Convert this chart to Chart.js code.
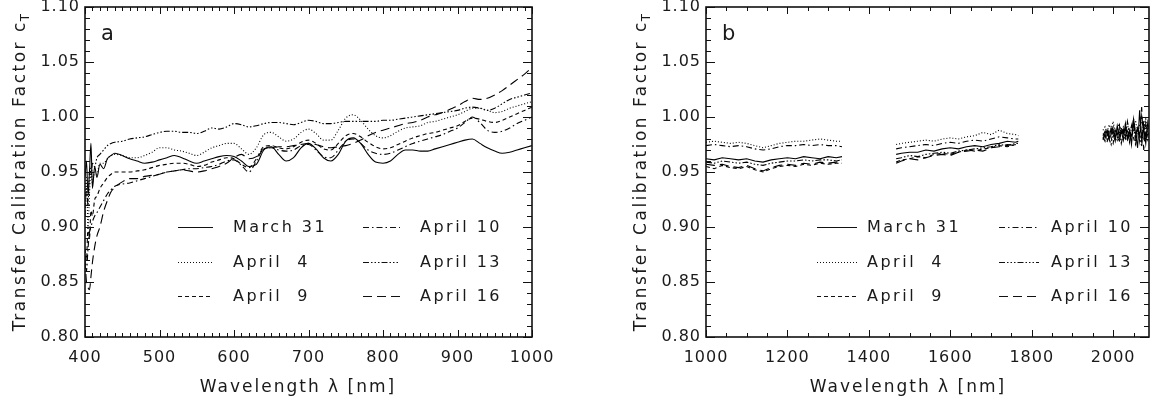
<!DOCTYPE html>
<html>
<head>
<meta charset="utf-8">
<script src="https://cdn.jsdelivr.net/npm/chart.js@4.4.1/dist/chart.umd.min.js"></script>
<style>
  html, body { margin:0; padding:0; background:#fff; }
  #wrap { position:relative; width:1151px; height:403px; overflow:hidden; }
  .panel { position:absolute; top:0; height:403px; }
  #pa { left:0; width:575px; }
  #pb { left:575px; width:576px; }
</style>
</head>
<body>
<div id="wrap">
  <div class="panel" id="pa"><canvas id="ca"></canvas></div>
  <div class="panel" id="pb"><canvas id="cb"></canvas></div>
</div>
<script>
// ---- data: panel a (400-1000 nm) ----
const waveA = [400,402,404,406,408,410,413,416,420,425,430,435,440,
  450,460,470,480,490,500,510,520,530,540,
  550,560,570,580,590,600,610,620,630,640,
  650,660,670,680,690,700,710,720,730,740,
  750,760,770,780,790,800,810,820,830,840,
  850,860,870,880,890,900,910,920,930,940,
  950,960,970,980,990,1000];

const mar31A = [.945,.960,.930,.950,.976,.935,.955,.945,.957,.953,.962,.965,.967,
  .965,.962,.960,.958,.959,.961,.963,.965,.963,.960,
  .958,.960,.962,.964,.965,.964,.960,.955,.957,.970,
  .973,.966,.960,.963,.972,.976,.971,.963,.960,.966,
  .978,.981,.976,.966,.959,.958,.960,.966,.970,.970,
  .969,.969,.971,.973,.975,.977,.979,.980,.976,.972,
  .969,.967,.968,.970,.972,.974];
const apr4A = [.920,.945,.900,.930,.955,.940,.950,.948,.958,.958,.962,.965,.966,
  .965,.963,.963,.965,.968,.972,.972,.970,.969,.967,
  .965,.968,.972,.974,.976,.976,.971,.966,.972,.984,
  .986,.982,.978,.980,.986,.989,.985,.979,.979,.988,
  .999,1.002,.997,.989,.983,.981,.983,.987,.990,.991,
  .992,.995,.996,.998,1.000,1.002,1.005,1.008,1.008,1.006,
  1.004,1.005,1.008,1.010,1.012,1.014];
const apr9A = [.880,.870,.900,.890,.915,.910,.925,.928,.935,.940,.945,.948,.950,
  .950,.950,.951,.952,.954,.956,.957,.958,.958,.957,
  .955,.956,.959,.961,.963,.962,.957,.954,.962,.973,
  .974,.972,.971,.973,.977,.979,.976,.971,.970,.976,
  .983,.985,.982,.977,.973,.971,.972,.975,.978,.981,
  .983,.985,.986,.988,.990,.992,.996,.999,.998,.996,
  .995,.997,1.000,1.003,1.006,1.009];
const apr10A = [.875,.860,.880,.895,.900,.905,.910,.913,.918,.924,.930,.934,.937,
  .939,.940,.942,.944,.946,.948,.950,.951,.952,.953,
  .953,.954,.955,.957,.960,.961,.956,.950,.960,.971,
  .972,.970,.969,.970,.974,.975,.970,.964,.963,.970,
  .978,.980,.976,.970,.967,.966,.967,.970,.973,.976,
  .978,.980,.982,.984,.987,.990,.995,1.000,.995,.988,
  .986,.987,.990,.994,.997,1.000];
const apr13A = [.910,.935,.920,.950,.945,.958,.955,.963,.966,.970,.974,.976,.977,
  .978,.980,.981,.982,.984,.986,.987,.987,.986,.986,
  .985,.987,.990,.989,.991,.994,.993,.991,.992,.994,
  .995,.995,.994,.993,.995,.997,.996,.994,.994,.995,
  .996,.996,.996,.996,.996,.997,.997,.998,.999,1.000,
  1.001,1.002,1.003,1.004,1.005,1.006,1.008,1.009,1.008,1.006,
  1.008,1.012,1.016,1.018,1.020,1.022];
const apr16A = [.870,.850,.845,.843,.855,.868,.882,.892,.900,.914,.924,.932,.936,
  .941,.944,.944,.946,.947,.948,.950,.951,.952,.951,
  .950,.951,.953,.955,.958,.963,.966,.962,.964,.971,
  .972,.973,.973,.974,.975,.976,.975,.973,.972,.973,
  .974,.976,.979,.983,.986,.988,.990,.992,.994,.995,
  .997,1.000,1.002,1.004,1.007,1.010,1.014,1.017,1.016,1.017,
  1.020,1.024,1.029,1.034,1.039,1.045];

// ---- data: panel b (three measured windows) ----
const waveB1 = [1000,1020,1040,1060,1080,1100,1120,1140,1160,1180,1200,1220,1240,1260,1280,1300,1320,1334];
const waveB2 = [1467,1480,1500,1520,1540,1560,1580,1600,1620,1640,1660,1680,1700,1720,1740,1760,1767];
const waveB3 = [1975,1980,1985,1990,1995,2000,2005,2010,2015,2020,2025,2030,2035,2040,2045,2050,2055,2060,2065,2070,2075,2080,2085,2090];

const mar31B = [
  [.962,.961,.963,.962,.961,.962,.960,.959,.961,.962,.963,.962,.964,.963,.962,.964,.963,.964],
  [.966,.967,.968,.968,.970,.969,.971,.972,.971,.973,.974,.973,.975,.976,.978,.977,.978],
  [.985,.982,.988,.980,.990,.984,.978,.992,.983,.987,.979,.994,.981,.988,.975,.998,.985,.972,1.006,.980,.990,.976,.995,.985]];
const apr4B = [
  [.977,.978,.977,.976,.977,.976,.974,.972,.974,.976,.977,.978,.978,.979,.980,.979,.978,.978],
  [.975,.976,.977,.978,.979,.978,.980,.981,.980,.982,.983,.986,.984,.988,.985,.984,.983],
  [.988,.991,.985,.993,.989,.996,.986,.990,.994,.984,.991,.987,.995,.983,.992,.988,.997,.986,.993,.984,.990,.998,.987,.992]];
const apr9B = [
  [.955,.953,.956,.954,.953,.955,.952,.950,.953,.955,.956,.955,.957,.956,.958,.957,.958,.958],
  [.959,.961,.962,.964,.963,.966,.967,.966,.968,.970,.969,.971,.972,.974,.973,.975,.974],
  [.979,.984,.977,.986,.981,.976,.988,.982,.978,.990,.983,.980,.987,.977,.992,.981,.975,.989,.983,.978,.994,.980,.986,.982]];
const apr10B = [
  [.974,.975,.974,.973,.974,.973,.971,.970,.971,.973,.974,.974,.975,.974,.975,.974,.974,.973],
  [.971,.972,.973,.974,.975,.974,.976,.977,.976,.978,.979,.978,.980,.982,.981,.980,.980],
  [.983,.987,.981,.989,.985,.991,.982,.987,.993,.984,.989,.981,.996,.986,.983,.999,.984,.990,.978,1.001,.986,.982,.991,.988]];
const apr13B = [
  [.959,.958,.960,.959,.958,.959,.957,.956,.958,.959,.960,.960,.961,.960,.961,.961,.960,.961],
  [.962,.963,.965,.964,.966,.967,.968,.967,.969,.970,.971,.972,.973,.975,.974,.976,.976],
  [.982,.978,.986,.980,.975,.987,.983,.979,.989,.976,.985,.991,.978,.986,.982,.995,.977,.988,.984,.973,.997,.983,.979,.990]];
const apr16B = [
  [.957,.956,.957,.955,.954,.956,.953,.951,.954,.956,.957,.956,.958,.957,.959,.958,.959,.960],
  [.958,.960,.962,.961,.963,.965,.966,.965,.968,.969,.970,.969,.972,.973,.975,.974,.975],
  [.980,.985,.990,.979,.984,.992,.980,.986,.977,.990,.985,.993,.980,.988,.978,.996,.982,.990,.983,1.009,.970,.994,.983,.988]];

const dates = ['March 31', 'April  4', 'April  9', 'April 10', 'April 13', 'April 16'];
const dashes = [[], [1,2], [4,3], [6,3,1.5,3], [6,2,1.5,2,1.5,2,1.5,2], [9,5]];

const yTitle = 'Transfer Calibration Factor c';
const xTitle = 'Wavelength \u03bb [nm]';

// ---- helpers ----
const pts = (xs, ys) => xs.map((x,i) => ({x, y: ys[i]}));
function segPts(parts){
  const wins = [waveB1, waveB2, waveB3];
  const out = [];
  parts.forEach((ys,k) => {
    if (k) out.push({x: (out[out.length-1].x + wins[k][0]) / 2, y: null});
    out.push(...pts(wins[k], ys));
  });
  return out;
}

const FONT = '"DejaVu Sans", sans-serif';

function makeDeco(cfg){
  return {
    id: 'deco',
    beforeDraw(chart){ chart.ctx.letterSpacing = '1px'; },
    afterDraw(chart){
      const {ctx, chartArea: a, scales: {x, y}} = chart;
      ctx.save();
      ctx.strokeStyle = '#111';
      ctx.lineWidth = 1;
      ctx.beginPath();
      const nx = Math.floor((x.max - x.min) / cfg.minorX + 1e-6);
      for (let i = 0; i <= nx; i++) {
        const v = x.min + i * cfg.minorX;
        const px = Math.round(x.getPixelForValue(v)) + 0.5;
        const L = (Math.round(v) % cfg.majorX === 0) ? 7 : 4;
        ctx.moveTo(px, a.bottom); ctx.lineTo(px, a.bottom - L);
        ctx.moveTo(px, a.top); ctx.lineTo(px, a.top + L);
      }
      for (let i = 0; i <= 30; i++) {
        const py = Math.round(y.getPixelForValue(0.8 + i * 0.01)) + 0.5;
        const L = (i % 5 === 0) ? 9 : 5;
        ctx.moveTo(a.left, py); ctx.lineTo(a.left + L, py);
        ctx.moveTo(a.right, py); ctx.lineTo(a.right - L, py);
      }
      ctx.stroke();
      ctx.lineWidth = 1.6;
      ctx.strokeRect(a.left, a.top, a.right - a.left, a.bottom - a.top);

      ctx.fillStyle = '#1a1a1a';
      // panel letter
      ctx.letterSpacing = '0px';
      ctx.font = '21px ' + FONT;
      ctx.textAlign = 'left'; ctx.textBaseline = 'alphabetic';
      ctx.fillText(cfg.letter, a.left + 16, 40);

      // legend
      ctx.font = '16px ' + FONT;
      ctx.letterSpacing = '2.5px';
      chart.data.datasets.forEach((ds, i) => {
        const col = cfg.legendCols[i < 3 ? 0 : 1];
        const ry = cfg.legendRows[i % 3];
        ctx.save();
        ctx.lineWidth = 1;
        ctx.setLineDash(ds.borderDash || []);
        ctx.beginPath();
        ctx.moveTo(col[0], ry + 0.5); ctx.lineTo(col[1], ry + 0.5);
        ctx.stroke();
        ctx.restore();
        ctx.textBaseline = 'middle';
        ctx.fillText(ds.label, col[2], ry + 1);
      });

      // x title
      ctx.font = '17px ' + FONT;
      ctx.letterSpacing = '2px';
      ctx.textAlign = 'center'; ctx.textBaseline = 'alphabetic';
      ctx.fillText(xTitle, cfg.xTitleX, 392);

      // y title with subscript T
      ctx.save();
      ctx.translate(a.left - 60, (a.top + a.bottom) / 2);
      ctx.rotate(-Math.PI / 2);
      ctx.textAlign = 'left';
      ctx.font = '17px ' + FONT; ctx.letterSpacing = '2.5px';
      const w1 = ctx.measureText(yTitle).width;
      ctx.font = '12px ' + FONT; ctx.letterSpacing = '0px';
      const w2 = ctx.measureText('T').width;
      const s = -(w1 + w2) / 2;
      ctx.font = '17px ' + FONT; ctx.letterSpacing = '2.5px';
      ctx.fillText(yTitle, s, 0);
      ctx.font = '12px ' + FONT; ctx.letterSpacing = '0px';
      ctx.fillText('T', s + w1 - 1, 4);
      ctx.restore();
      ctx.restore();
    }
  };
}

function makeChart(id, datasets, xr, cfg){
  const tickFont = {family: 'DejaVu Sans', size: 16};
  return new Chart(document.getElementById(id), {
    type: 'line',
    data: {datasets},
    options: {
      responsive: true, maintainAspectRatio: false, animation: false,
      layout: {padding: {top: 7, left: 0, right: cfg.padRight, bottom: 0}},
      plugins: {legend: {display: false}, tooltip: {enabled: false}},
      elements: {point: {radius: 0}, line: {borderWidth: 1.1, borderColor: '#000'}},
      scales: {
        x: {
          type: 'linear', min: xr[0], max: xr[1],
          grid: {display: false, drawTicks: false}, border: {display: false},
          ticks: {stepSize: cfg.majorX, includeBounds: false, padding: 11, color: '#1a1a1a',
                  font: tickFont, maxRotation: 0, autoSkip: false, callback: v => String(v)},
          afterFit(s){ s.height = 66; s.paddingLeft = 0; s.paddingRight = 0; }
        },
        y: {
          type: 'linear', min: 0.8, max: 1.1,
          grid: {display: false, drawTicks: false}, border: {display: false},
          ticks: {stepSize: 0.05, includeBounds: false, padding: 5, color: '#1a1a1a',
                  font: tickFont, callback: v => v.toFixed(2)},
          afterFit(s){ s.width = cfg.yWidth; s.paddingTop = 0; s.paddingBottom = 0; }
        }
      }
    },
    plugins: [makeDeco(cfg)]
  });
}

const seriesA = [mar31A, apr4A, apr9A, apr10A, apr13A, apr16A];
const seriesB = [mar31B, apr4B, apr9B, apr10B, apr13B, apr16B];

makeChart('ca', seriesA.map((ys, i) => ({
    label: dates[i], data: pts(waveA, ys), borderDash: dashes[i],
    cubicInterpolationMode: 'monotone', spanGaps: false
  })), [400, 1000],
  {letter: 'a', yWidth: 85, padRight: 43, majorX: 100, minorX: 10, xTitleX: 298,
   legendCols: [[178, 213, 233], [363, 400, 420]], legendRows: [227, 262, 296]});

makeChart('cb', seriesB.map((parts, i) => ({
    label: dates[i], data: segPts(parts), borderDash: dashes[i],
    tension: 0, spanGaps: false
  })), [1000, 2088],
  {letter: 'b', yWidth: 131, padRight: 2, majorX: 200, minorX: 50, xTitleX: 333,
   legendCols: [[242, 282, 292], [424, 464, 476]], legendRows: [227, 262, 296]});
</script>
</body>
</html>
